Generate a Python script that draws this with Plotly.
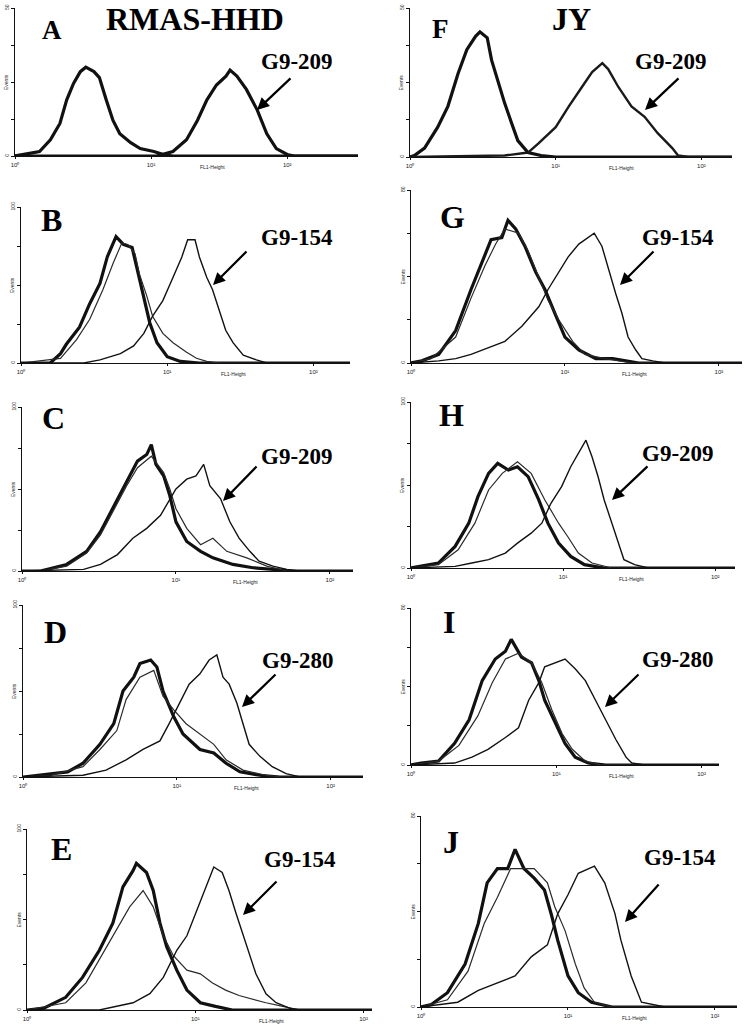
import plotly.graph_objects as go

# ---------------- data (x in decades of FL1-Height, y in events) ----------------
A_ctrl_x = [0.07, 0.18, 0.26, 0.33, 0.38, 0.43, 0.48, 0.52, 0.58, 0.62, 0.67, 0.72, 0.77, 0.85, 0.92, 1.02, 1.09, 1.16]
A_ctrl_y = [0.5, 1.5, 5.5, 11, 19, 24.5, 28.5, 30, 28.5, 26.5, 19, 12, 7.5, 4.5, 2.5, 1.5, 0.5, 0]
A_pos_x = [1.04, 1.16, 1.26, 1.34, 1.41, 1.48, 1.55, 1.58, 1.63, 1.70, 1.78, 1.85, 1.92, 2.0, 2.05]
A_pos_y = [0, 1.5, 5.5, 12, 19, 24, 27, 29, 27, 22.5, 15.5, 7.5, 2.5, 0.5, 0]

F_ctrl_x = [0.03, 0.10, 0.19, 0.26, 0.33, 0.39, 0.45, 0.48, 0.53, 0.56, 0.61, 0.65, 0.70, 0.74, 0.81, 0.90, 1.0]
F_ctrl_y = [0.5, 3, 10, 17, 28, 36, 40.5, 42, 40, 32.5, 24.5, 18, 11, 5.5, 1.5, 0.5, 0]
F_pos_x = [0.65, 0.81, 0.88, 1.0, 1.09, 1.18, 1.25, 1.32, 1.36, 1.43, 1.52, 1.61, 1.70, 1.80, 1.84, 1.91]
F_pos_y = [0.5, 1.5, 4.5, 10, 17, 23.5, 28.5, 31.5, 29.5, 23.5, 17, 13.5, 8, 3, 0.5, 0]

B_c1_x = [0.20, 0.27, 0.31, 0.40, 0.47, 0.54, 0.59, 0.65, 0.70, 0.76, 0.79, 0.84, 0.88, 0.93, 1.0, 1.09, 1.22]
B_c1_y = [0, 6, 12, 23, 38, 51, 68, 81, 76, 74, 62, 40, 26, 13, 4, 1, 0]
B_c2_x = [0.27, 0.38, 0.47, 0.56, 0.63, 0.69, 0.73, 0.78, 0.81, 0.86, 0.90, 0.97, 1.04, 1.13, 1.20, 1.27, 1.36]
B_c2_y = [3, 15, 28, 47, 64, 77, 76, 70, 57, 43, 30, 19, 13, 7, 3, 1, 0]
B_pos_x = [0.43, 0.54, 0.68, 0.77, 0.84, 0.90, 0.97, 1.04, 1.10, 1.14, 1.19, 1.22, 1.27, 1.31, 1.36, 1.40, 1.45, 1.52, 1.61, 1.68]
B_pos_y = [0, 2, 6, 11, 19, 30, 40, 55, 68, 79, 79, 68, 55, 47, 32, 21, 13, 5, 2, 0]

C_c1_x = [0.12, 0.29, 0.42, 0.51, 0.59, 0.68, 0.75, 0.81, 0.84, 0.87, 0.92, 0.96, 1.00, 1.07, 1.16, 1.24, 1.37, 1.50, 1.63, 1.76]
C_c1_y = [0, 4, 12, 24, 38, 54, 67, 71, 77, 65, 58, 46, 30, 18, 12, 8, 4, 2, 1, 0]
C_c2_x = [0.12, 0.29, 0.42, 0.51, 0.59, 0.68, 0.75, 0.84, 0.92, 0.96, 1.00, 1.07, 1.16, 1.24, 1.33, 1.46, 1.59, 1.72]
C_c2_y = [0, 3, 11, 22, 36, 52, 63, 70, 60, 50, 38, 26, 16, 20, 12, 8, 3, 0]
C_pos_x = [0.40, 0.51, 0.62, 0.72, 0.81, 0.90, 0.95, 1.00, 1.07, 1.13, 1.18, 1.22, 1.29, 1.35, 1.41, 1.48, 1.54, 1.63, 1.72, 1.80]
C_pos_y = [1, 4, 10, 20, 26, 34, 42, 50, 56, 58, 65, 52, 44, 30, 20, 12, 6, 3, 1, 0]

D_c1_x = [0.11, 0.29, 0.39, 0.50, 0.59, 0.65, 0.72, 0.76, 0.83, 0.87, 0.91, 0.98, 1.04, 1.15, 1.24, 1.32, 1.41, 1.54, 1.67]
D_c1_y = [1, 3, 8, 19, 31, 50, 58, 66, 68, 64, 50, 35, 25, 16, 14, 8, 3, 1, 0]
D_c2_x = [0.18, 0.39, 0.50, 0.61, 0.67, 0.76, 0.85, 0.91, 0.98, 1.06, 1.15, 1.24, 1.32, 1.43, 1.58, 1.69]
D_c2_y = [1, 6, 16, 27, 45, 58, 62, 47, 39, 31, 25, 19, 10, 4, 1, 0]
D_pos_x = [0.39, 0.54, 0.67, 0.78, 0.89, 0.95, 1.02, 1.08, 1.15, 1.21, 1.26, 1.30, 1.34, 1.39, 1.43, 1.47, 1.54, 1.62, 1.71, 1.80]
D_pos_y = [1, 4, 10, 16, 21, 31, 43, 54, 60, 68, 71, 58, 54, 43, 31, 19, 12, 6, 2, 0]

E_c1_x = [0.10, 0.23, 0.33, 0.43, 0.51, 0.57, 0.63, 0.65, 0.71, 0.75, 0.79, 0.83, 0.89, 0.95, 1.03, 1.12, 1.22]
E_c1_y = [1, 7, 18, 33, 48, 68, 77, 81, 76, 66, 48, 35, 22, 11, 4, 2, 0]
E_c2_x = [0.23, 0.35, 0.43, 0.53, 0.61, 0.69, 0.75, 0.81, 0.87, 0.95, 1.03, 1.10, 1.18, 1.26, 1.34, 1.42, 1.52, 1.62]
E_c2_y = [4, 15, 28, 44, 57, 66, 57, 41, 30, 22, 20, 15, 11, 8, 6, 4, 2, 0]
E_pos_x = [0.43, 0.63, 0.73, 0.81, 0.89, 0.95, 1.01, 1.07, 1.11, 1.16, 1.20, 1.24, 1.30, 1.36, 1.42, 1.48, 1.56, 1.62]
E_pos_y = [0, 4, 9, 18, 33, 41, 55, 70, 79, 76, 66, 54, 37, 20, 9, 4, 1, 0]

G_c1_x = [0.07, 0.18, 0.29, 0.39, 0.46, 0.52, 0.59, 0.63, 0.68, 0.74, 0.81, 0.87, 0.94, 1.0, 1.09, 1.20, 1.31, 1.48]
G_c1_y = [1, 4, 15, 34, 46, 57, 58, 66, 62, 54, 42, 34, 22, 12, 6, 2, 2, 0]
G_c2_x = [0.13, 0.29, 0.39, 0.48, 0.55, 0.61, 0.70, 0.76, 0.83, 0.89, 0.96, 1.05, 1.13, 1.26, 1.44]
G_c2_y = [2, 12, 30, 45, 55, 62, 60, 52, 40, 29, 20, 10, 4, 2, 0]
G_pos_x = [0.18, 0.29, 0.39, 0.50, 0.61, 0.72, 0.83, 0.89, 0.96, 1.02, 1.09, 1.15, 1.19, 1.24, 1.28, 1.33, 1.37, 1.41, 1.46, 1.50, 1.57, 1.65]
G_pos_y = [1, 2, 4, 7, 10, 17, 26, 34, 42, 49, 55, 58, 60, 54, 44, 32, 23, 12, 6, 2, 1, 0]

H_c1_x = [0.07, 0.18, 0.29, 0.38, 0.44, 0.51, 0.57, 0.64, 0.70, 0.77, 0.84, 0.90, 0.97, 1.05, 1.14, 1.27]
H_c1_y = [1, 3, 13, 27, 43, 57, 63, 59, 61, 55, 41, 27, 15, 7, 2, 0]
H_c2_x = [0.18, 0.31, 0.42, 0.51, 0.60, 0.70, 0.79, 0.88, 0.97, 1.03, 1.10, 1.19, 1.32]
H_c2_y = [2, 11, 27, 47, 57, 64, 57, 41, 27, 19, 9, 3, 0]
H_pos_x = [0.29, 0.40, 0.51, 0.62, 0.70, 0.79, 0.86, 0.92, 0.99, 1.05, 1.10, 1.15, 1.19, 1.23, 1.27, 1.32, 1.36, 1.40, 1.47, 1.56]
H_pos_y = [1, 3, 5, 9, 15, 21, 27, 39, 49, 61, 69, 77, 67, 55, 41, 27, 15, 5, 2, 0]

I_c1_x = [0.07, 0.19, 0.30, 0.40, 0.49, 0.58, 0.65, 0.69, 0.76, 0.83, 0.88, 0.92, 0.99, 1.06, 1.13, 1.22, 1.34]
I_c1_y = [1, 2, 11, 23, 43, 54, 58, 64, 55, 52, 43, 33, 22, 11, 4, 1, 0]
I_c2_x = [0.19, 0.33, 0.46, 0.56, 0.65, 0.74, 0.83, 0.90, 0.97, 1.04, 1.11, 1.20, 1.31]
I_c2_y = [2, 10, 25, 42, 54, 57, 52, 42, 28, 16, 8, 2, 0]
I_pos_x = [0.30, 0.42, 0.53, 0.65, 0.74, 0.81, 0.88, 0.92, 0.99, 1.06, 1.13, 1.20, 1.27, 1.34, 1.41, 1.48, 1.52, 1.61]
I_pos_y = [1, 4, 8, 14, 19, 33, 42, 50, 52, 54, 49, 43, 33, 23, 13, 4, 1, 0]

J_c1_x = [0.07, 0.18, 0.30, 0.39, 0.45, 0.52, 0.59, 0.64, 0.70, 0.77, 0.84, 0.89, 0.93, 1.0, 1.07, 1.16, 1.30]
J_c1_y = [1, 6, 18, 35, 52, 58, 58, 66, 58, 54, 49, 38, 28, 13, 6, 2, 0]
J_c2_x = [0.18, 0.32, 0.43, 0.52, 0.61, 0.68, 0.77, 0.86, 0.91, 0.98, 1.05, 1.11, 1.18, 1.30]
J_c2_y = [3, 15, 35, 46, 58, 58, 58, 52, 42, 32, 18, 8, 2, 0]
J_pos_x = [0.11, 0.25, 0.39, 0.52, 0.64, 0.75, 0.86, 0.93, 1.0, 1.07, 1.14, 1.18, 1.25, 1.32, 1.36, 1.43, 1.50, 1.57, 1.66]
J_pos_y = [1, 2, 7, 10, 13, 21, 26, 39, 47, 56, 58, 59, 52, 39, 28, 13, 2, 1, 0]

panel_letters = ["A", "B", "C", "D", "E", "F", "G", "H", "I", "J"]
peptide_labels = ["G9-209", "G9-154", "G9-209", "G9-280", "G9-154",
                  "G9-209", "G9-154", "G9-209", "G9-280", "G9-154"]
column_titles = ["RMAS-HHD", "JY"]
y_max = [50, 100, 100, 100, 100, 50, 80, 100, 80, 80]
x_decades = [2.52, 2.25, 2.15, 2.21, 2.05, 2.21, 2.15, 2.13, 2.12, 2.15]
tick_vals = [1, 10, 100]
tick_text = ["10⁰", "10¹", "10²"]

curves = {
    "A": [(A_ctrl_x, A_ctrl_y, "thick"), (A_pos_x, A_pos_y, "thick")],
    "B": [(B_c1_x, B_c1_y, "thick"), (B_c2_x, B_c2_y, "thin"), (B_pos_x, B_pos_y, "pos")],
    "C": [(C_c1_x, C_c1_y, "thick"), (C_c2_x, C_c2_y, "thin"), (C_pos_x, C_pos_y, "pos")],
    "D": [(D_c1_x, D_c1_y, "thick"), (D_c2_x, D_c2_y, "thin"), (D_pos_x, D_pos_y, "pos")],
    "E": [(E_c1_x, E_c1_y, "thick"), (E_c2_x, E_c2_y, "thin"), (E_pos_x, E_pos_y, "pos")],
    "F": [(F_ctrl_x, F_ctrl_y, "thick"), (F_pos_x, F_pos_y, "thick2")],
    "G": [(G_c1_x, G_c1_y, "thick"), (G_c2_x, G_c2_y, "thin"), (G_pos_x, G_pos_y, "pos")],
    "H": [(H_c1_x, H_c1_y, "thick"), (H_c2_x, H_c2_y, "thin"), (H_pos_x, H_pos_y, "pos")],
    "I": [(I_c1_x, I_c1_y, "thick"), (I_c2_x, I_c2_y, "thin"), (I_pos_x, I_pos_y, "pos")],
    "J": [(J_c1_x, J_c1_y, "thick"), (J_c2_x, J_c2_y, "thin"), (J_pos_x, J_pos_y, "pos")],
}

# ---------------- layout geometry (pixels) ----------------
W, H = 745, 1026
# left, right, top, bottom of each plot area
boxes = {
    "A": (15, 358, 8, 156), "B": (21, 350, 207, 363), "C": (22, 353, 407, 571),
    "D": (23, 363, 605, 777), "E": (27, 372, 829, 1010),
    "F": (410, 732, 8, 157), "G": (411, 742, 190, 363), "H": (411, 735, 402, 568),
    "I": (411, 719, 608, 765), "J": (421, 737, 816, 1007),
}
letter_pos = {"A": (52, 30, 27), "B": (51, 220, 32), "C": (53, 418, 32), "D": (55, 632, 32),
              "E": (61, 849, 32), "F": (440, 29, 27), "G": (452, 217, 32), "H": (451, 415, 32),
              "I": (449, 622, 32), "J": (451, 842, 32)}
label_pos = {"A": (297, 62), "B": (297, 237), "C": (297, 456), "D": (298, 660), "E": (300, 859),
             "F": (671, 62), "G": (678, 237), "H": (678, 453), "I": (678, 659), "J": (680, 857)}
arrows = {"A": ((292, 77), (257, 110)), "B": ((248, 250), (213, 285)), "C": ((258, 465), (223, 501)),
          "D": ((277, 673), (242, 707)), "E": ((278, 880), (243, 915)),
          "F": ((680, 77), (645, 110)), "G": ((655, 250), (620, 285)), "H": ((649, 465), (612, 500)),
          "I": ((640, 673), (605, 707)), "J": ((660, 883), (625, 922))}
title_pos = [(195, 19), (571, 19)]

styles = {"thick": dict(color="#111111", width=3.2),
          "thick2": dict(color="#1a1a1a", width=2.4),
          "thin": dict(color="#2a2a2a", width=1.2),
          "pos": dict(color="#111111", width=1.4)}

fig = go.Figure()
annotations = []
serif = "Liberation Serif"
sans = "Liberation Sans"

def px(x):
    return x / W

def py(y):
    return 1 - y / H

def text_ann(text, x, y, size, family, angle=0, color="#000"):
    return dict(text=text, xref="paper", yref="paper", x=px(x), y=py(y),
                xanchor="center", yanchor="middle", showarrow=False, textangle=angle,
                font=dict(size=size, family=family, color=color))

for i, name in enumerate(panel_letters):
    k = i + 1
    xid = "x" if k == 1 else f"x{k}"
    yid = "y" if k == 1 else f"y{k}"
    l, r, t, b = boxes[name]
    xr = x_decades[i]
    ym = y_max[i]
    for xs, ys, st in curves[name]:
        xx = [1.0] + [10 ** v for v in xs] + [10 ** xr]
        yy = [0] + list(ys) + [0]
        fig.add_trace(go.Scatter(x=xx, y=yy, mode="lines", line=styles[st],
                                 xaxis=xid, yaxis=yid, showlegend=False, hoverinfo="skip"))
    axis_common = dict(showgrid=False, zeroline=False, showline=True, linecolor="#111",
                       linewidth=1.4, ticks="outside", tickcolor="#111", mirror=False,
                       automargin=False)
    fig.layout["xaxis" if k == 1 else f"xaxis{k}"] = dict(
        type="log", range=[0, xr], domain=[px(l), px(r)], anchor=yid,
        tickvals=tick_vals, ticktext=tick_text, ticklen=2, tickwidth=1,
        tickfont=dict(size=6, family=sans, color="#222"), **axis_common)
    fig.layout["yaxis" if k == 1 else f"yaxis{k}"] = dict(
        range=[0, ym], domain=[py(b), py(t)], anchor=xid,
        tickvals=[0, ym / 4, ym / 2, 3 * ym / 4, ym], ticktext=["0", "", "", "", str(ym)],
        ticklen=3, tickwidth=1, tickangle=-90,
        tickfont=dict(size=5, family=sans, color="#222"), **axis_common)
    dec = (r - l) / xr
    annotations.append(text_ann("FL1-Height", l + 1.45 * dec, b + 11, 5, sans, color="#222"))
    annotations.append(text_ann("Events", l - 9, (t + b) / 2, 5, sans, angle=-90, color="#222"))
    lx, ly, ls = letter_pos[name]
    annotations.append(text_ann(f"<b>{name}</b>", lx, ly, ls, serif))
    gx, gy = label_pos[name]
    annotations.append(text_ann(f"<b>{peptide_labels[i]}</b>", gx, gy, 23, serif))
    (tx, ty), (hx, hy) = arrows[name]
    annotations.append(dict(text="", xref="paper", yref="paper", x=px(hx), y=py(hy),
                            ax=tx - hx, ay=ty - hy, showarrow=True, arrowhead=2,
                            arrowsize=1.1, arrowwidth=2.2, arrowcolor="#000"))

for (cx, cy), txt in zip(title_pos, column_titles):
    annotations.append(text_ann(f"<b>{txt}</b>", cx, cy, 32, serif))

fig.update_layout(width=W, height=H, margin=dict(l=0, r=0, t=0, b=0, autoexpand=False),
                  paper_bgcolor="white", plot_bgcolor="white",
                  annotations=annotations, showlegend=False)

fig.write_html("out.html", config={"displayModeBar": False, "staticPlot": True},
               post_script="document.body.style.margin='0';document.body.style.overflow='hidden';")
